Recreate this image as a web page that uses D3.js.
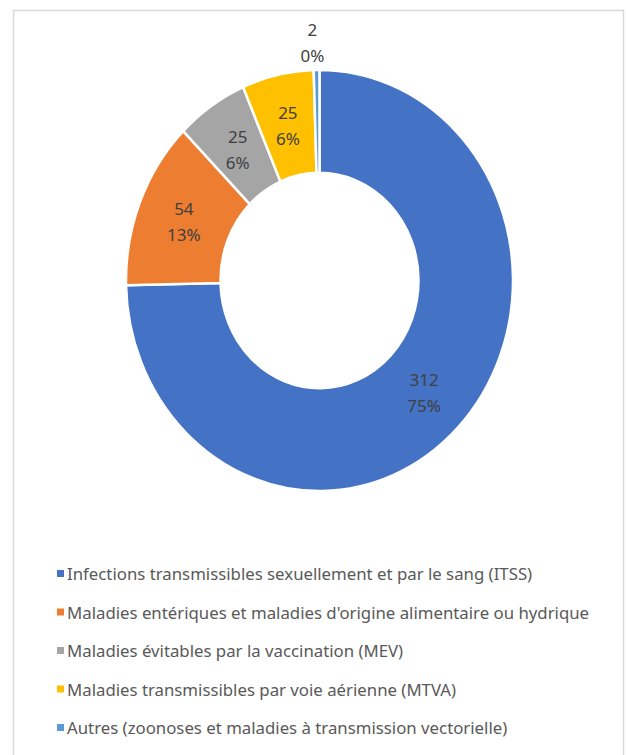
<!DOCTYPE html>
<html>
<head>
<meta charset="utf-8">
<title>Donut</title>
<style>
  body { margin: 0; background: #fff; }
  text { font-family: "Noto Sans", sans-serif; fill: #404040; }
</style>
</head>
<body>
<script src="https://cdn.jsdelivr.net/npm/d3@7"></script>
<script>
var categories = ["Infections transmissibles sexuellement et par le sang (ITSS)",
                  "Maladies entériques et maladies d'origine alimentaire ou hydrique",
                  "Maladies évitables par la vaccination (MEV)",
                  "Maladies transmissibles par voie aérienne (MTVA)",
                  "Autres (zoonoses et maladies à transmission vectorielle)"];
var values = [312, 54, 25, 25, 2];
var colors = ["#4472c4", "#ed7d31", "#a5a5a5", "#ffc000", "#5b9bd5"];

var width = 626, height = 755;
var cx = 319.5, cy = 280.5, rOut = 193.5, rIn = 99, yScale = 1.088;

var svg = d3.select("body").append("svg")
    .attr("width", width).attr("height", height);

// frame
svg.append("rect")
    .attr("x", 13.5).attr("y", 10.5)
    .attr("width", 610).attr("height", 760)
    .attr("fill", "none").attr("stroke", "#d9d9d9").attr("stroke-width", 1.5);

var total = d3.sum(values);
var pie = d3.pie().sort(null).value(function(d){ return d; });
var arcs = pie(values);
var arc = d3.arc().innerRadius(rIn).outerRadius(rOut);

var g = svg.append("g")
    .attr("transform", "translate(" + cx + "," + cy + ") scale(1," + yScale + ")");

g.selectAll("path")
    .data(arcs)
    .enter().append("path")
    .attr("d", arc)
    .attr("fill", function(d, i){ return colors[i]; })
    .attr("stroke", "#fff")
    .attr("stroke-width", 2.5)
    .attr("vector-effect", "non-scaling-stroke");

// labels
var labels = svg.append("g");
arcs.forEach(function(d, i) {
  var pos;
  if (values[i] / total < 0.02) {
    var a = (d.startAngle + d.endAngle) / 2;
    pos = [cx + Math.sin(a) * (rOut + 15) - 4, cy - Math.cos(a) * (rOut + 15) * yScale - 12];
  } else {
    var c = arc.centroid(d);
    pos = [cx + c[0], cy + c[1] * yScale];
  }
  var t = labels.append("text")
      .attr("text-anchor", "middle")
      .attr("font-size", 17);
  t.append("tspan").attr("x", pos[0]).attr("y", pos[1] - 6).text(values[i]);
  t.append("tspan").attr("x", pos[0]).attr("y", pos[1] + 20)
      .text(Math.round(values[i] / total * 100) + "%");
});

// legend
var legend = svg.append("g");
var rowY = d3.scalePoint().domain(d3.range(categories.length)).range([574, 728]);
var item = legend.selectAll("g")
    .data(categories)
    .enter().append("g")
    .attr("transform", function(d, i){ return "translate(57," + rowY(i) + ")"; });
item.append("rect")
    .attr("x", 0).attr("y", -4)
    .attr("width", 7).attr("height", 7)
    .attr("fill", function(d, i){ return colors[i]; });
item.append("text")
    .attr("x", 10).attr("y", 6)
    .attr("font-size", 16.8)
    .style("fill", "#595959")
    .text(function(d){ return d; });
</script>
</body>
</html>
